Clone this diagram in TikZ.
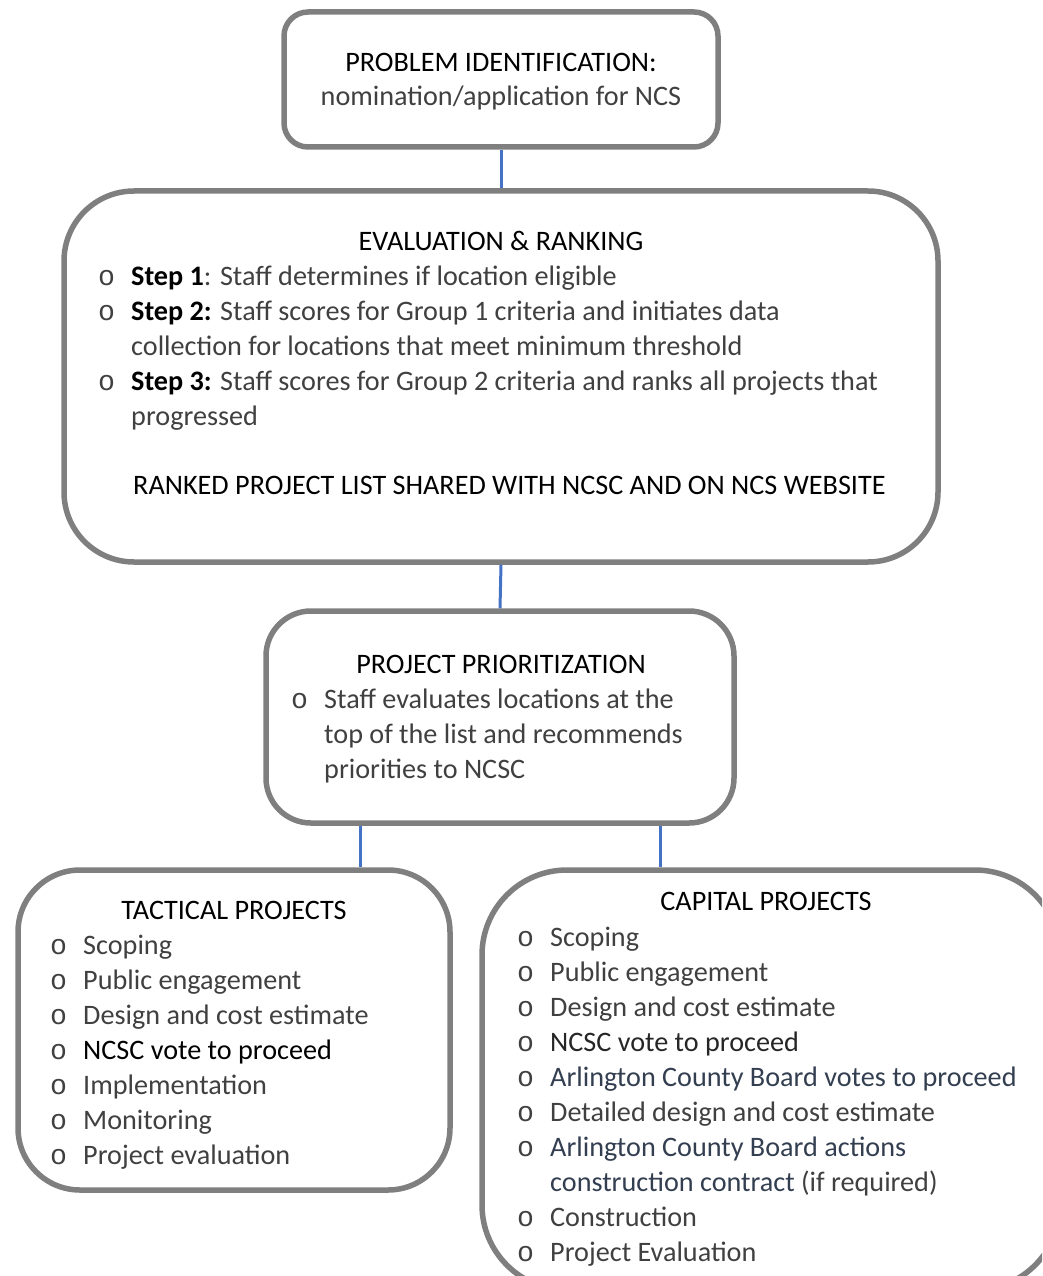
\documentclass[tikz,border=0pt]{standalone}
\usepackage{fontspec}
\setmainfont{Carlito}
\newfontfamily\bulletfont{Liberation Mono}
\usepackage{xcolor}
\usepackage{tikz}

\definecolor{boxgray}{HTML}{7F7F7F}
\definecolor{linkblue}{HTML}{4472C4}
\definecolor{bodygray}{HTML}{404040}
\definecolor{boardnavy}{HTML}{333F50}

\newcommand{\bodysize}{\fontsize{28.2}{35}\selectfont}
\newcommand{\bul}{\makebox[33pt][l]{\bulletfont o}}
\newcommand{\stp}[1]{\textbf{\color{black}#1}}

\begin{document}
\begin{tikzpicture}[
    x=1pt, y=-1pt,
    box/.style={rectangle, draw=boxgray, line width=5.5pt, rounded corners=#1,
                inner sep=0pt},
    box/.default=24pt,
    conn/.style={draw=linkblue, line width=3pt},
    ttl/.style={anchor=base, inner sep=0pt, font=\bodysize, text=black},
    txt/.style={anchor=base west, inner sep=0pt, font=\bodysize, text=bodygray}
  ]
  \useasboundingbox (0,0) rectangle (1042,1276);
  \clip (0,0) rectangle (1042,1276);

  % Boxes
  \node[box, minimum width=434pt, minimum height=135pt] (prob) at (501, 79.5) {};
  \node[box=70pt, minimum width=874pt, minimum height=371pt] (eval) at (501, 376.5) {};
  \node[box=45pt, minimum width=468pt, minimum height=212pt] (prio) at (500, 717) {};
  \node[box=62pt, minimum width=432pt, minimum height=320pt] (tact) at (234, 1030) {};
  \node[box=85pt, minimum width=578pt, minimum height=420pt] (capi) at (771, 1080) {};

  % Connectors
  \coordinate (tk) at ([xshift=-140pt]prio.south);
  \coordinate (ck) at ([xshift=160pt]prio.south);
  \draw[conn] (prob.south) -- (eval.north);
  \draw[conn] (eval.south) -- (prio.north);
  \draw[conn] (tk) -- (tk |- tact.north);
  \draw[conn] (ck) -- (ck |- capi.north);

  % Problem identification
  \node[ttl] (probttl) at (501, 72) {PROBLEM IDENTIFICATION:};
  \node[ttl, text=bodygray] (probsub) at (501, 106) {nomination/application for NCS};

  % Evaluation & ranking
  \node[ttl] (evalttl) at (501, 250) {EVALUATION \& RANKING};
  \node[txt] (evallist) at (98, 285) {\begin{tabular}[t]{@{}l@{}l@{}}
    \bul & \stp{Step 1}: Staff determines if location eligible\\
    \bul & \stp{Step 2:} Staff scores for Group 1 criteria and initiates data\\
         & collection for locations that meet minimum threshold\\
    \bul & \stp{Step 3:} Staff scores for Group 2 criteria and ranks all projects that\\
         & progressed
  \end{tabular}};
  \node[txt, text=black] (ranked) at (133, 494) {RANKED PROJECT LIST SHARED WITH NCSC AND ON NCS WEBSITE};

  % Project prioritization
  \node[ttl] (priottl) at (501, 673) {PROJECT PRIORITIZATION};
  \node[txt] (priolist) at (291, 708) {\begin{tabular}[t]{@{}l@{}l@{}}
    \bul & Staff evaluates locations at the\\
         & top of the list and recommends\\
         & priorities to NCSC
  \end{tabular}};

  % Tactical projects
  \node[ttl] (tactttl) at (234, 919) {TACTICAL PROJECTS};
  \node[txt] (tactlist) at (50, 954) {\begin{tabular}[t]{@{}l@{}l@{}}
    \bul & Scoping\\
    \bul & Public engagement\\
    \bul & Design and cost estimate\\
    \bul & {\color{black}NCSC vote to proceed}\\
    \bul & Implementation\\
    \bul & Monitoring\\
    \bul & Project evaluation
  \end{tabular}};

  % Capital projects
  \node[ttl] (capittl) at (766, 910) {CAPITAL PROJECTS};
  \node[txt] (capilist) at (517, 946) {\begin{tabular}[t]{@{}l@{}l@{}}
    \bul & Scoping\\
    \bul & Public engagement\\
    \bul & Design and cost estimate\\
    \bul & {\color{black!85}NCSC vote to proceed}\\
    \bul & {\color{boardnavy}Arlington County Board votes to proceed}\\
    \bul & Detailed design and cost estimate\\
    \bul & {\color{boardnavy}Arlington County Board actions}\\
         & {\color{boardnavy}construction contract} (if required)\\
    \bul & Construction\\
    \bul & Project Evaluation
  \end{tabular}};

\end{tikzpicture}
\end{document}
